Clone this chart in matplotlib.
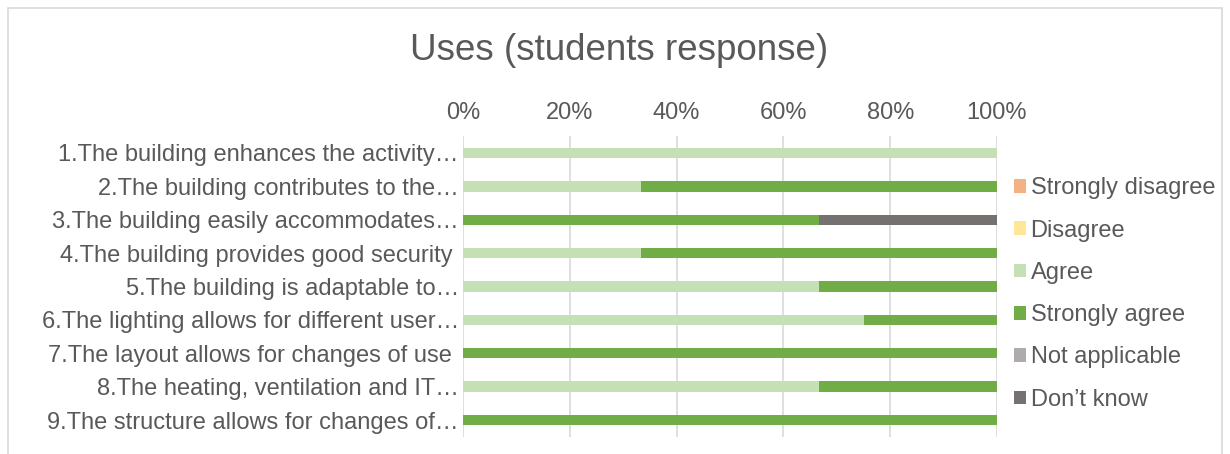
import numpy as np
import matplotlib.pyplot as plt
from matplotlib.patches import Rectangle

plt.rcParams['font.family'] = ['Liberation Sans', 'DejaVu Sans']

statements = [
    "1.The building enhances the activity\u2026",
    "2.The building contributes to the\u2026",
    "3.The building easily accommodates\u2026",
    "4.The building provides good security ",
    "5.The building is adaptable to\u2026",
    "6.The lighting allows for different user\u2026",
    "7.The layout allows for changes of use ",
    "8.The heating, ventilation and IT\u2026",
    "9.The structure allows for changes of\u2026",
]
responses = ["Strongly disagree", "Disagree", "Agree", "Strongly agree",
             "Not applicable", "Don\u2019t know"]
colors = ["#F4B183", "#FFE699", "#C5E0B4", "#70AD47", "#AFABAB", "#767171"]

# share of answers per statement (fractions of 1)
strongly_disagree = [0, 0, 0, 0, 0, 0, 0, 0, 0]
disagree = [0, 0, 0, 0, 0, 0, 0, 0, 0]
agree = [1.0, 1/3, 0, 1/3, 2/3, 0.75, 0, 2/3, 0]
strongly_agree = [0, 2/3, 2/3, 2/3, 1/3, 0.25, 1.0, 1/3, 1.0]
not_applicable = [0, 0, 0, 0, 0, 0, 0, 0, 0]
dont_know = [0, 0, 1/3, 0, 0, 0, 0, 0, 0]
series = [strongly_disagree, disagree, agree, strongly_agree, not_applicable, dont_know]

txt = "#595959"
fig = plt.figure(figsize=(12.3, 4.54), dpi=100)
fig.patches.append(Rectangle((8/1230, -0.1), 1214/1230, 1.1 - 8/454,
                             transform=fig.transFigure, fill=False,
                             edgecolor="#d9d9d9", linewidth=1.2))
ax = fig.add_axes([463/1230, 0.0381, 534/1230, 0.6617])

y = np.arange(len(statements))
left = np.zeros(len(statements))
for name, vals, c in zip(responses, series, colors):
    ax.barh(y, vals, left=left, height=0.31, color=c, label=name, zorder=3)
    left += np.array(vals)

ax.set_ylim(len(statements) - 0.5, -0.5)
ax.set_xlim(0, 1)
ax.set_yticks(y)
ax.set_yticklabels(statements, fontsize=17, color=txt)
ax.set_xticks(np.linspace(0, 1, 6))
ax.set_xticklabels([f"{int(v)}%" for v in np.linspace(0, 100, 6)], fontsize=17, color=txt)
ax.xaxis.tick_top()
ax.tick_params(axis="both", length=0)
ax.tick_params(axis="x", pad=9)
ax.tick_params(axis="y", pad=3)
ax.grid(axis="x", color="#d9d9d9", linewidth=1.2, zorder=0)
for s in ax.spines.values():
    s.set_visible(False)

fig.text(619/1230, 1 - 51/454, "Uses (students response)", fontsize=26.5,
         color=txt, ha="center", va="center")

fig.legend(loc="center left", bbox_to_anchor=(1014/1230, 1 - 294/454),
           frameon=False, fontsize=17, labelcolor=txt, handlelength=0.5,
           handleheight=0.5, handletextpad=0.2, labelspacing=0.86,
           borderaxespad=0, borderpad=0)

fig.savefig("out.png", dpi=100)
